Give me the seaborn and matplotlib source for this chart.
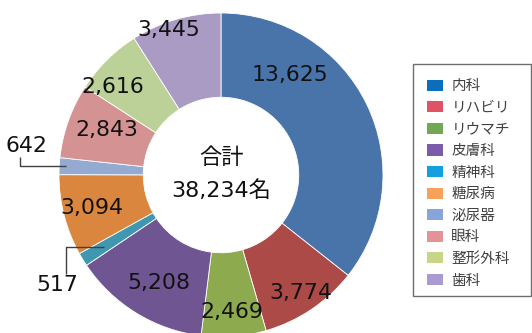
import numpy as np
import matplotlib
matplotlib.use("Agg")
import matplotlib.pyplot as plt
from matplotlib.patches import Patch, Rectangle
import seaborn as sns

# Patients by department
categories = ["内科", "リハビリ", "リウマチ", "皮膚科", "精神科",
              "糖尿病", "泌尿器", "眼科", "整形外科", "歯科"]
values = [13625, 3774, 2469, 5208, 517, 3094, 642, 2843, 2616, 3445]
total_label = "38,234名"

wedge_colors = ["#4874AA", "#AB4A46", "#8DAA4F", "#6F5592", "#3F97B0",
                "#DB863F", "#94AAD1", "#D49392", "#BCD197", "#A99BC4"]
legend_colors = ["#0B6EBD", "#E05266", "#72A853", "#7C5CA8", "#14A0DE",
                 "#F7A15B", "#87A5DA", "#E39397", "#C7D589", "#A99ACF"]

sns.set_theme(style="white")
plt.rcParams["font.family"] = ["DejaVu Sans", "Noto Sans CJK JP"]

W, H = 532, 333
fig = plt.figure(figsize=(W / 100, H / 100), dpi=100)

# pie axes: centre (221, 175) px, outer radius 162 px
cx, cy, R = 221, 175, 162
ax = fig.add_axes([(cx - R) / W, (H - cy - R) / H, 2 * R / W, 2 * R / H])

wedges, _ = ax.pie(values, colors=wedge_colors, startangle=90, counterclock=False,
                   radius=1.0,
                   wedgeprops=dict(width=0.52, edgecolor="white", linewidth=0.6))
ax.set_xlim(-1, 1)
ax.set_ylim(-1, 1)
ax.set_aspect("equal")
ax.axis("off")
for w in wedges:
    w.set_clip_on(False)

# inline value labels: position along each wedge and distance from centre
label_frac = [0.27, 0.5, 0.5, 0.47, 0.5, 0.5, 0.5, 0.58, 0.25, 0.39]
label_rad = [0.75, 0.88, 0.85, 0.77, 0.85, 0.82, 0.96, 0.76, 0.86, 0.95]
outside = {4: (-1.01, -0.68), 6: (-1.20, 0.18)}   # small slices get leader lines
elbow_x = {4: -0.957, 6: -1.24}
fs = 15.8

frac = np.array(values) / np.sum(values)
starts = np.concatenate([[0], np.cumsum(frac)[:-1]])
for i, (v, s, f) in enumerate(zip(values, starts, frac)):
    txt = f"{v:,}"
    a = np.deg2rad((s + f * label_frac[i]) * 360)
    rr = label_rad[i]
    px, py = rr * np.sin(a), rr * np.cos(a)
    if i in outside:
        tx, ty = outside[i]
        ex = elbow_x[i]
        yend = ty - 0.07 if ty > py else ty + 0.07
        ax.plot([px, ex, ex], [py, py, yend], color="#404040", lw=1.0,
                solid_capstyle="butt", clip_on=False)
        ax.text(tx, ty, txt, ha="center", va="center", fontsize=fs,
                color="#111111", clip_on=False)
    else:
        ax.text(px, py, txt, ha="center", va="center", fontsize=fs,
                color="#111111", clip_on=False)

# centre total
ax.text(0, 0.11, "合計", ha="center", va="center", fontsize=16, color="#111111",
        family=["Noto Sans CJK JP", "DejaVu Sans"])
ax.text(0, -0.095, total_label, ha="center", va="center", fontsize=16,
        color="#111111")

# legend box
fig.patches.append(Rectangle((413 / W, 1 - 296 / H), (531 - 413) / W, (296 - 64) / H,
                             transform=fig.transFigure, facecolor="white",
                             edgecolor="#6e6e6e", linewidth=1.0))
handles = [Patch(facecolor=c, edgecolor="none") for c in legend_colors]
leg = fig.legend(handles, categories, loc="upper left",
                 bbox_to_anchor=(420 / W, 1 - 72 / H), frameon=False,
                 labelspacing=0.52, handlelength=1.1,
                 handleheight=0.8, handletextpad=0.55, borderpad=0,
                 prop={"family": ["Noto Sans CJK JP"], "size": 10.5})
for t in leg.get_texts():
    t.set_color("#404040")

fig.savefig("out.png", dpi=100)
